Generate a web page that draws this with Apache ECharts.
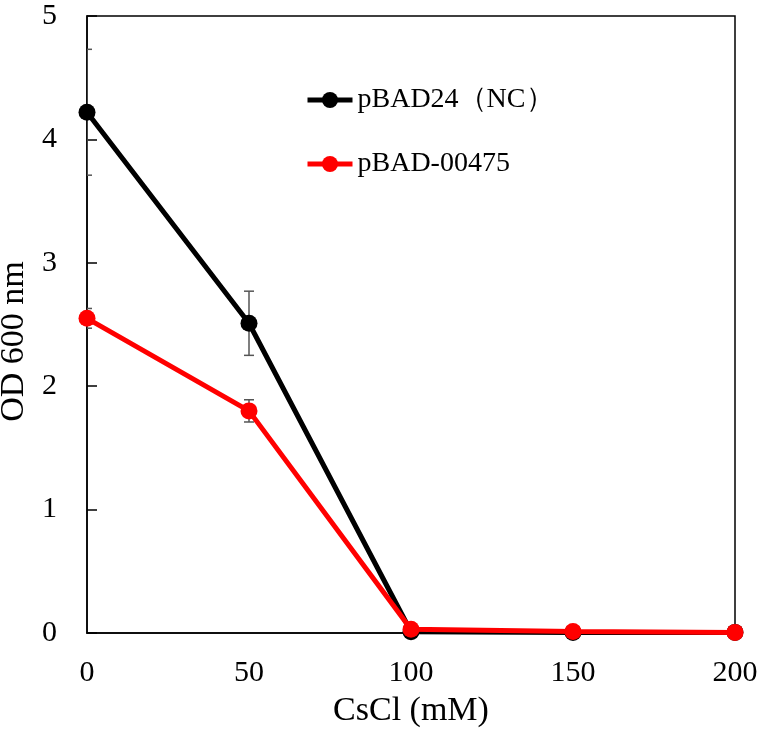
<!DOCTYPE html>
<html>
<head>
<meta charset="utf-8">
<style>
  html, body { margin: 0; padding: 0; background: #fff; }
  #chart { width: 765px; height: 734px; }
</style>
<script src="https://cdn.jsdelivr.net/npm/echarts@6/dist/echarts.min.js"></script>
</head>
<body>
<div id="chart"></div>
<script>
// CsCl concentration (mM)
var cscl = [0, 50, 100, 150, 200];

// OD600 readings and error sizes
var ncValues = [4.22, 2.51, 0.01, 0.005, 0.005];
var ncErrors = [0.51, 0.26, 0.01, 0.005, 0.005];
var expValues = [2.55, 1.80, 0.03, 0.012, 0.005];
var expErrors = [0.08, 0.09, 0.01, 0.005, 0.005];

var seriesNames = ["pBAD24（NC）", "pBAD-00475"];
var yTicks = [0, 1, 2, 3, 4, 5];
var xTicks = [0, 50, 100, 150, 200];

var FONT = "'Liberation Serif', 'Times New Roman', serif";

function pairs(xs, ys) {
	return xs.map(function (x, i) { return [x, ys[i]]; });
}

function errData(xs, ys, es) {
	return xs.map(function (x, i) { return [x, ys[i] - es[i], ys[i] + es[i]]; });
}

function renderErr(params, api) {
	var x = api.value(0);
	var lo = api.coord([x, api.value(1)]);
	var hi = api.coord([x, api.value(2)]);
	var cap = 5;
	var style = { stroke: "#555", lineWidth: 1.5 };
	return {
		type: "group",
		children: [
			{ type: "line", shape: { x1: lo[0], y1: lo[1], x2: hi[0], y2: hi[1] }, style: style },
			{ type: "line", shape: { x1: lo[0] - cap, y1: lo[1], x2: lo[0] + cap, y2: lo[1] }, style: style },
			{ type: "line", shape: { x1: hi[0] - cap, y1: hi[1], x2: hi[0] + cap, y2: hi[1] }, style: style }
		]
	};
}

var chart = echarts.init(document.getElementById("chart"));

chart.setOption({
	animation: false,
	textStyle: { fontFamily: FONT },
	grid: {
		left: 87, right: 30, top: 16, bottom: 101,
		outerBoundsMode: "none",
		containLabel: false,
		show: true, borderColor: "#000", borderWidth: 1.5,
		backgroundColor: "transparent"
	},
	legend: {
		data: seriesNames,
		orient: "vertical",
		left: 305, top: 86, padding: 0,
		itemWidth: 45, itemHeight: 20, itemGap: 36,
		lineStyle: { width: 5 },
		textStyle: { fontFamily: FONT, fontSize: 28, color: "#000" }
	},
	xAxis: {
		type: "value",
		min: xTicks[0], max: xTicks[xTicks.length - 1], interval: 50,
		name: "CsCl (mM)",
		nameLocation: "middle", nameGap: 61,
		nameTextStyle: { fontFamily: FONT, fontSize: 34, color: "#000" },
		axisLine: { show: true, lineStyle: { color: "#000", width: 1.5 } },
		axisTick: { show: false },
		splitLine: { show: false },
		axisLabel: { fontFamily: FONT, fontSize: 30, color: "#000", margin: 25 }
	},
	yAxis: {
		type: "value",
		min: yTicks[0], max: yTicks[yTicks.length - 1], interval: 1,
		name: "OD 600 nm",
		nameLocation: "middle", nameGap: 50,
		nameTextStyle: { fontFamily: FONT, fontSize: 34, color: "#000", padding: [0, 0, 0, -34] },
		axisLine: { show: true, lineStyle: { color: "#000", width: 1.5 } },
		axisTick: { show: true, inside: true, length: 10, lineStyle: { color: "#000", width: 1.5 } },
		splitLine: { show: false },
		axisLabel: { fontFamily: FONT, fontSize: 30, color: "#000", margin: 30 }
	},
	series: [
		{
			type: "custom",
			renderItem: renderErr,
			data: errData(cscl, ncValues, ncErrors),
			clip: true, z: 1, silent: true
		},
		{
			type: "custom",
			renderItem: renderErr,
			data: errData(cscl, expValues, expErrors),
			clip: true, z: 1, silent: true
		},
		{
			name: seriesNames[0],
			type: "line",
			data: pairs(cscl, ncValues),
			symbol: "circle", symbolSize: 17,
			lineStyle: { color: "#000", width: 5 },
			itemStyle: { color: "#000" },
			z: 3
		},
		{
			name: seriesNames[1],
			type: "line",
			data: pairs(cscl, expValues),
			symbol: "circle", symbolSize: 17,
			lineStyle: { color: "#ff0000", width: 5 },
			itemStyle: { color: "#ff0000" },
			z: 4
		}
	]
});
</script>
</body>
</html>
